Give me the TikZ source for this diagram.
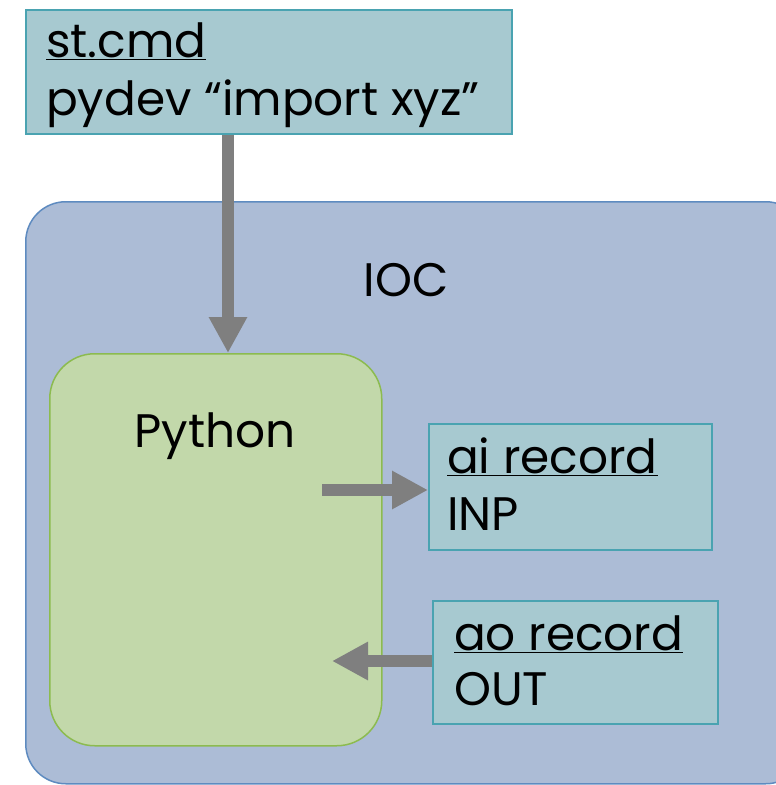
\documentclass[tikz,border=0pt]{standalone}
\usepackage{fontspec}
\setmainfont{Poppins}
\usetikzlibrary{arrows.meta}
\definecolor{recfill}{HTML}{A7C9D0}
\definecolor{recdraw}{HTML}{4AA3B1}
\definecolor{iocfill}{HTML}{ACBCD6}
\definecolor{iocdraw}{HTML}{5E8BC0}
\definecolor{pyfill}{HTML}{C2D8AA}
\definecolor{pydraw}{HTML}{8CBB4F}
\definecolor{arrowgray}{HTML}{7F7F7F}
\tikzset{
  recbox/.style={draw=recdraw, fill=recfill, line width=1.5pt, minimum width=#1, inner sep=0pt},
  iocbox/.style={draw=iocdraw, fill=iocfill, line width=1.5pt, rounded corners=40pt},
  pybox/.style={draw=pydraw, fill=pyfill, line width=1.5pt, rounded corners=45pt},
  bigtext/.style={font=\fontsize{47}{58}\selectfont, inner sep=0pt, text=black},
  fatarrow/.style={draw=arrowgray, line width=12pt, -{Triangle[length=36pt,width=36pt]}}
}
\begin{document}
\begin{tikzpicture}[x=1pt,y=-1pt]
\useasboundingbox (0,0) rectangle (776,785);
\clip (0,0) rectangle (776,785);
% IOC container
\node[iocbox, minimum width=780pt, minimum height=582pt, anchor=north west] (ioc) at (25,201) {};
\node[bigtext, anchor=base] (ioclbl) at (406,296) {IOC};
% st.cmd box
\node[recbox=486pt, minimum height=124pt, anchor=north west] (stcmd) at (25,9) {};
\node[bigtext, anchor=base west] (stcmdA) at (46,57) {\underline{st.cmd}};
\node[bigtext, anchor=base west] (stcmdB) at (46,115) {pydev “import xyz”};
% Python box
\node[pybox, minimum width=332pt, minimum height=392pt, anchor=north west] (python) at (49,353) {};
\node[bigtext, anchor=base] (pylbl) at (215,447) {Python};
% ai record
\node[recbox=283pt, minimum height=126pt, anchor=north west] (ai) at (428,423) {};
\node[bigtext, anchor=base west] (aiA) at (447,473) {\underline{ai record}};
\node[bigtext, anchor=base west] (aiB) at (447,530) {INP};
% ao record
\node[recbox=285pt, minimum height=123pt, anchor=north west] (ao) at (432,600) {};
\node[bigtext, anchor=base west] (aoA) at (454,650) {\underline{ao record}};
\node[bigtext, anchor=base west] (aoB) at (454,705) {OUT};
% connectors
\coordinate (dx) at (228,0);
\coordinate (pin) at (322,490);
\coordinate (pout) at (332,661);
\draw[fatarrow] (stcmd.south -| dx) -- (python.north -| dx);
\draw[fatarrow] (pin) -- (pin -| ai.west);
\draw[fatarrow] (ao.west |- pout) -- (pout);
\end{tikzpicture}
\end{document}
